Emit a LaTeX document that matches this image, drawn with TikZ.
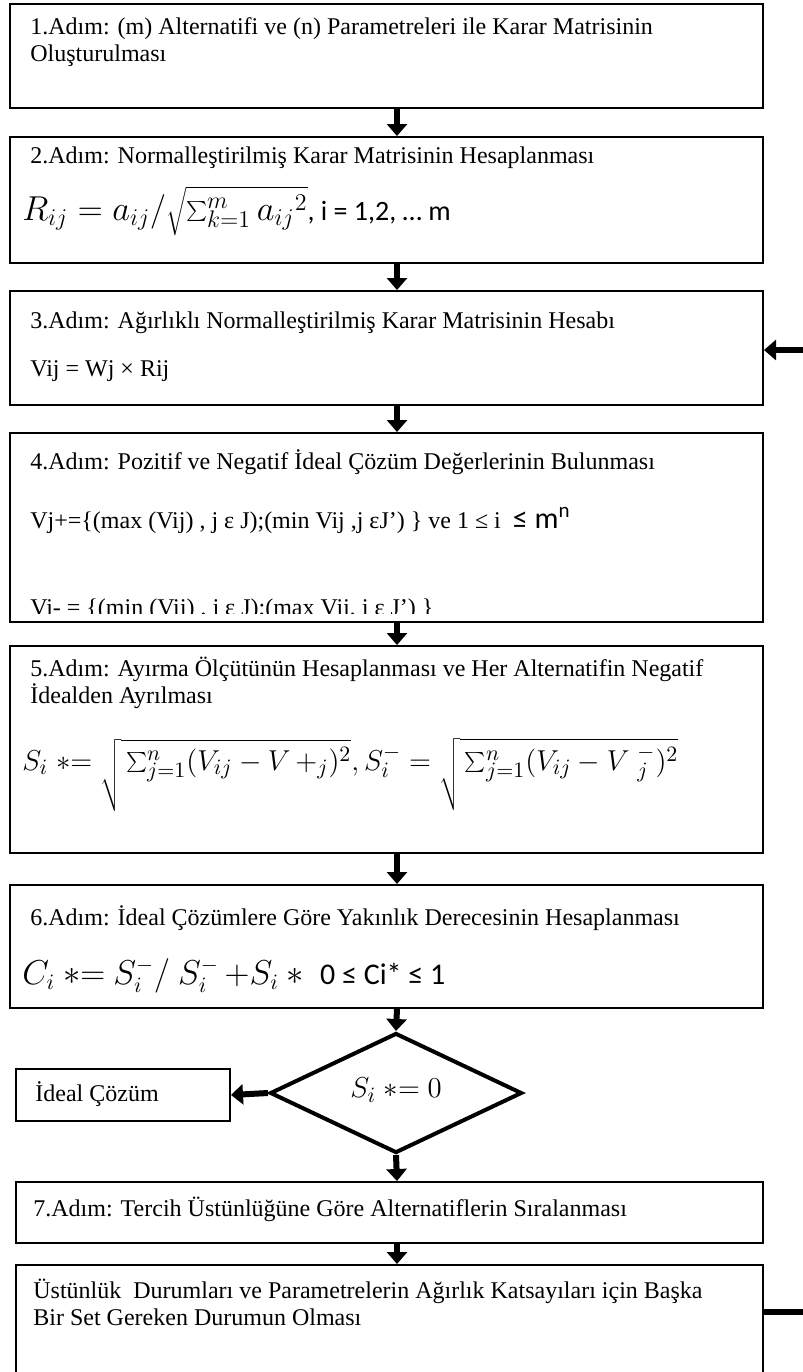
\documentclass[tikz,border=0pt]{standalone}
\usepackage{fontspec}
\setmainfont{Liberation Serif}
\newfontfamily\calib{Carlito}
\usetikzlibrary{shapes.geometric,arrows.meta,calc}
\begin{document}
\begin{tikzpicture}[x=0.5pt,y=-0.5pt,
  box/.style={draw,line width=1pt,rectangle,anchor=north west,inner sep=0pt,minimum width=376.5pt},
  txt/.style={anchor=base west,inner sep=0pt,font=\fontsize{12pt}{14pt}\selectfont},
  mth/.style={anchor=base west,inner sep=0pt,font=\fontsize{15pt}{18pt}\selectfont},
  arr/.style={line width=3pt,-{Triangle[width=10pt,length=6pt]}},
  bar/.style={line width=3pt}
]
\useasboundingbox (0,0) rectangle (803,1372);
% boxes
\node[box,minimum height=52pt] (b1) at (9,3) {};
\node[box,minimum height=63pt] (b2) at (9,136) {};
\node[box,minimum height=57pt] (b3) at (9,290) {};
\node[box,minimum height=94.5pt] (b4) at (9,432) {};
\node[box,minimum height=103.5pt] (b5) at (9,645) {};
\node[box,minimum height=61.5pt] (b6) at (9,884) {};
\node[box,minimum width=373.5pt,minimum height=30.5pt] (b7) at (15,1181) {};
\node[box,minimum width=373.5pt,minimum height=68pt] (b8) at (15,1264) {};
\node[box,minimum width=107pt,minimum height=26pt] (ideal) at (15,1068) {};
\node[draw,diamond,line width=2pt,minimum width=126pt,minimum height=60pt,inner sep=0pt] (dia) at (396,1093) {};
% texts
\node[txt] (t1a) at (30,34) {1.Adım: (m) Alternatifi ve (n) Parametreleri ile Karar Matrisinin};
\node[txt] (t1b) at (30,61) {Oluşturulması};
\node[txt] (t2) at (30,163) {2.Adım: Normalleştirilmiş Karar Matrisinin Hesaplanması};
\node[mth,font=\fontsize{16.5pt}{19pt}\selectfont] (f2) at (22,220) {$R_{ij} = a_{ij}/\sqrt{\sum_{k=1}^{m} {a_{ij}}^{2}}$\calib\fontsize{14pt}{16pt}\selectfont, i = 1,2, … m};
\node[txt] (t3) at (30,328) {3.Adım: Ağırlıklı Normalleştirilmiş Karar Matrisinin Hesabı};
\node[txt] (v3) at (30,376) {Vij = Wj × Rij};
\node[txt] (t4) at (30,469) {4.Adım: Pozitif ve Negatif İdeal Çözüm Değerlerinin Bulunması};
\node[txt] (v4a) at (30,528) {Vj+=\{(max (Vij) , j ε J);(min Vij ,j εJ') \} ve 1 ≤ i\ \ {\calib\fontsize{15pt}{17pt}\selectfont ≤ m\textsuperscript{n}}};
\begin{scope}
\clip (b4.north west) rectangle ($(b4.south east)+(0,-10)$);
\node[txt] (v4b) at (30,615) {Vi- = \{(min (Vij) , j ε J);(max Vij, j ε J') \}};
\end{scope}
\node[txt] (t5a) at (30,676) {5.Adım: Ayırma Ölçütünün Hesaplanması ve Her Alternatifin Negatif};
\node[txt] (t5b) at (30,703) {İdealden Ayrılması};
\node[mth,font=\fontsize{15.5pt}{18pt}\selectfont] (f5) at (22,770) {$S_i\ {\ast}{=}\ \sqrt{\rule[-18pt]{0pt}{29pt}\sum_{j=1}^{n}(V_{ij}-V\,{+}_{j})^{2}}, S_i^{-} = \sqrt{\rule[-18pt]{0pt}{29pt}\sum_{j=1}^{n}(V_{ij}-V\;{}^{-}_{j})^{2}}$};
\node[txt] (t6) at (30,925) {6.Adım: İdeal Çözümlere Göre Yakınlık Derecesinin Hesaplanması};
\node[mth,font=\fontsize{16pt}{19pt}\selectfont] (f6) at (22,984) {$C_i\ {\ast}{=}\ S_i^{-}/\ S_i^{-}\,{+}S_i\ \ast$\ \ {\calib\fontsize{15pt}{18pt}\selectfont 0 ≤ Ci* ≤ 1}};
\node[txt] (tI) at (35,1101) {İdeal Çözüm};
\node[mth,anchor=center] (tD) at (396,1090) {$S_i\ {\ast}{=}\ 0$};
\node[txt] (t7) at (33,1216) {7.Adım: Tercih Üstünlüğüne Göre Alternatiflerin Sıralanması};
\node[txt] (t8a) at (33,1298) {Üstünlük\ \ Durumları ve Parametrelerin Ağırlık Katsayıları için Başka};
\node[txt] (t8b) at (33,1325) {Bir Set Gereken Durumun Olması};
% connectors
\coordinate (col) at (397,0);
\draw[arr] (b1.south -| col) -- (b2.north -| col);
\draw[arr] (b2.south -| col) -- (b3.north -| col);
\draw[arr] (b3.south -| col) -- (b4.north -| col);
\draw[arr] (b4.south -| col) -- (b5.north -| col);
\draw[arr] (b5.south -| col) -- (b6.north -| col);
\draw[arr] (b6.south -| col) -- (dia.north);
\draw[arr] (dia.west) -- (ideal.east);
\draw[arr] (dia.south) -- (b7.north -| col);
\draw[arr] (b7.south -| col) -- (b8.north -| col);
\coordinate (r3) at (803,350);
\draw[arr] (r3) -- (r3 -| b3.east);
\coordinate (r8) at (803,1312);
\draw[bar] (r8 -| b8.east) -- (r8);
\end{tikzpicture}
\end{document}
